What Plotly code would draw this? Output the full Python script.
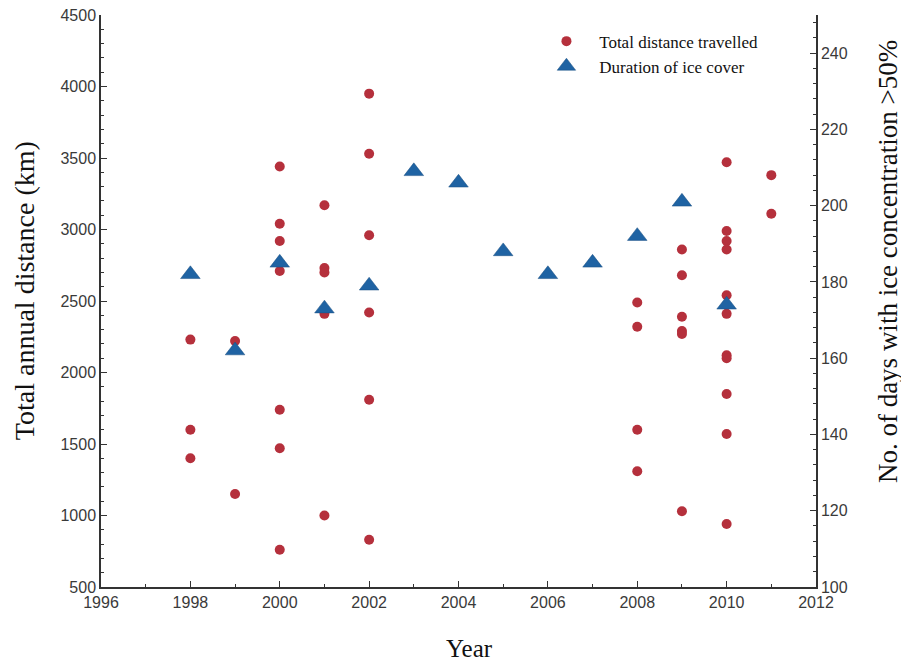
import plotly.graph_objects as go

# Total distance travelled (km), by year
dist_years = [1998, 1998, 1998,
              1999, 1999,
              2000, 2000, 2000, 2000, 2000, 2000, 2000,
              2001, 2001, 2001, 2001, 2001,
              2002, 2002, 2002, 2002, 2002, 2002,
              2008, 2008, 2008, 2008,
              2009, 2009, 2009, 2009, 2009, 2009,
              2010, 2010, 2010, 2010, 2010, 2010, 2010, 2010, 2010, 2010, 2010,
              2011, 2011]
dist_values = [2230, 1600, 1400,
               2220, 1150,
               3440, 3040, 2920, 2710, 1740, 1470, 760,
               3170, 2730, 2700, 2410, 1000,
               3950, 3530, 2960, 2420, 1810, 830,
               2490, 2320, 1600, 1310,
               2860, 2680, 2390, 2290, 2270, 1030,
               3470, 2990, 2920, 2860, 2540, 2410, 2120, 2100, 1850, 1570, 940,
               3380, 3110]

# Duration of ice cover (days with ice concentration >50%)
ice_years = [1998, 1999, 2000, 2001, 2002, 2003, 2004, 2005, 2006, 2007, 2008, 2009, 2010]
ice_days = [182, 162, 185, 173, 179, 209, 206, 188, 182, 185, 192, 201, 174]

x_ticks = [1996, 1998, 2000, 2002, 2004, 2006, 2008, 2010, 2012]
y_left_ticks = [500, 1000, 1500, 2000, 2500, 3000, 3500, 4000, 4500]
y_right_ticks = [100, 120, 140, 160, 180, 200, 220, 240]

RED = "#B5303C"
BLUE = "#1F63A3"
AXIS = "#333333"
tick_font = dict(family="Liberation Sans, Arial, sans-serif", size=16, color="#3a3a3a")
serif = "Liberation Serif, Times New Roman, serif"
NB = "\u00a0\u00a0\u00a0"

fig = go.Figure()
fig.add_trace(go.Scatter(
    x=dist_years, y=dist_values, mode="markers", name=NB + "Total distance travelled",
    marker=dict(symbol="circle", size=10, color=RED),
))
fig.add_trace(go.Scatter(
    x=ice_years, y=ice_days, mode="markers", name=NB + "Duration of ice cover",
    yaxis="y2",
    marker=dict(symbol="triangle-up", size=17, color=BLUE, line=dict(width=0.5, color="#1a4f80")),
))

fig.update_layout(
    width=901, height=654,
    paper_bgcolor="white", plot_bgcolor="white",
    margin=dict(l=93, r=93, t=7, b=75),
    showlegend=True,
    legend=dict(
        x=0.623, y=0.985, xanchor="left", yanchor="top",
        bgcolor="rgba(0,0,0,0)",
        font=dict(family=serif, size=17, color="#111"),
        itemsizing="trace", tracegroupgap=0,
    ),
    xaxis=dict(
        range=[1996, 2012], tickvals=x_ticks, ticktext=[str(v) for v in x_ticks],
        showgrid=False, zeroline=False, automargin=False,
        showline=True, linecolor=AXIS, linewidth=1.5,
        ticks="inside", ticklen=6, tickcolor=AXIS, tickwidth=1,
        minor=dict(ticks="inside", dtick=1, tick0=1996, ticklen=3, tickcolor=AXIS),
        tickfont=tick_font, ticklabeloverflow="allow",
    ),
    yaxis=dict(
        range=[500, 4500], tickvals=y_left_ticks,
        showgrid=False, zeroline=False, automargin=False,
        showline=True, linecolor=AXIS, linewidth=1.5,
        ticks="inside", ticklen=6, tickcolor=AXIS, tickwidth=1,
        minor=dict(ticks="inside", dtick=100, tick0=500, ticklen=3, tickcolor=AXIS),
        tickfont=tick_font, ticklabeloverflow="allow",
    ),
    yaxis2=dict(
        range=[100, 250], tickvals=y_right_ticks,
        overlaying="y", side="right",
        showgrid=False, zeroline=False, automargin=False,
        showline=True, linecolor=AXIS, linewidth=1.5,
        ticks="inside", ticklen=6, tickcolor=AXIS, tickwidth=1,
        minor=dict(ticks="inside", dtick=4, tick0=100, ticklen=3, tickcolor=AXIS),
        tickfont=tick_font, ticklabeloverflow="allow",
    ),
    annotations=[
        dict(text="Year", xref="paper", yref="paper", x=0.516, y=-0.107,
             xanchor="center", yanchor="middle", showarrow=False,
             font=dict(family=serif, size=25, color="#111")),
        dict(text="Total annual distance (km)", xref="paper", yref="paper", x=-0.1077, y=0.519,
             xanchor="center", yanchor="middle", showarrow=False, textangle=-90,
             font=dict(family=serif, size=28, color="#111")),
        dict(text="No. of days with ice concentration >50%", xref="paper", yref="paper", x=1.1007, y=0.568,
             xanchor="center", yanchor="middle", showarrow=False, textangle=-90,
             font=dict(family=serif, size=27, color="#111")),
    ],
)

fig.write_html("out.html")
